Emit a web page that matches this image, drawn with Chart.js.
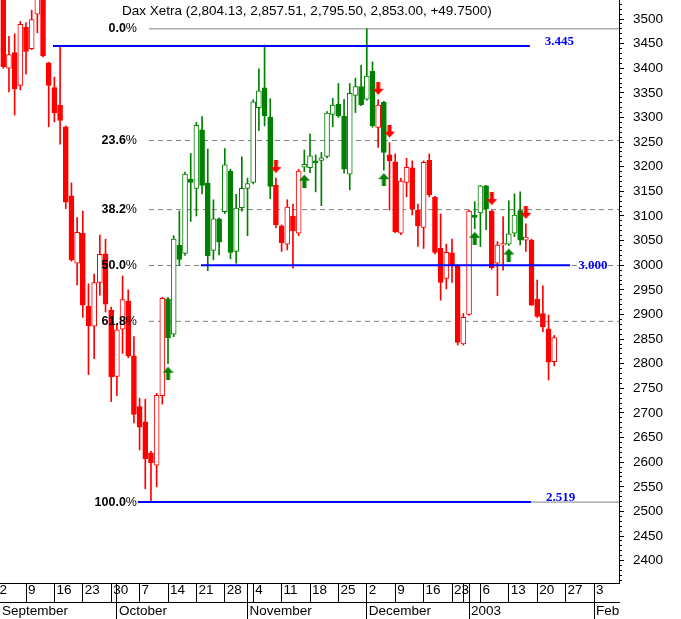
<!DOCTYPE html>
<html><head><meta charset="utf-8">
<script src="https://cdn.jsdelivr.net/npm/chart.js@4/dist/chart.umd.min.js"></script>
<style>html,body{margin:0;padding:0;background:#fff;overflow:hidden}canvas{display:block}</style>
</head><body>
<canvas id="c" width="681" height="619"></canvas>
<script>
// ---------- DATA ----------
const instrument = 'Dax Xetra';
const firstIndex = 1; // trading-day index of the first candle (Sep 3, 2002; Sep 2 = 0)
const opens  = [3560,3400,3432,3365,3483,3440,3510,3560,3411,3361,3325,3281,3141,3004,3065,2917,2876,2965,3023,2909,
                2774,2870,2927,2816,2713,2682,2619,2594,2735,2932,2860,3041,3024,3175,3156,3275,3167,3030,3094,3109,
                3191,3028,3117,3156,3168,3320,3360,3301,3163,3080,3043,3100,3065,3199,3198,3212,3213,3221,3306,3327,
                3303,3185,3345,3363,3337,3394,3280,3331,3224,3210,3065,3168,3198,3112,3077,3213,3138,3035,2973,3025,
                2999,2840,2900,3102,3106,3161,3110,3004,3041,3043,3065,3111,3051,3051,2931,2902,2871,2804.13];
const highs  = [3575,3465,3470,3495,3492,3518,3570,3575,3412,3382,3445,3283,3167,3097,3110,2962,2982,3061,3053,2915,
                2880,2978,2950,2855,2730,2728,2622,2740,2935,2935,3060,3110,3189,3227,3290,3302,3236,3133,3096,3237,
                3195,3144,3220,3177,3336,3399,3447,3338,3177,3082,3133,3124,3195,3234,3267,3224,3229,3312,3339,3369,
                3337,3369,3380,3406,3480,3413,3336,3333,3249,3226,3177,3217,3212,3124,3212,3226,3140,3104,3043,3053,
                3001,2902,3112,3129,3162,3162,3112,3048,3099,3131,3145,3149,3084,3053,2970,2958,2899,2857.51];
const lows   = [3400,3352,3305,3356,3388,3438,3472,3423,3281,3291,3246,3115,3008,2960,2894,2778,2810,2939,2905,2723,
                2735,2821,2812,2680,2625,2546,2519,2550,2718,2800,2855,3000,3020,3089,3100,3145,2989,3011,3021,3105,
                3013,3004,3110,3060,3165,3273,3283,3135,3076,3028,3031,2994,3060,3190,3188,3149,3121,3218,3281,3300,
                3187,3153,3310,3324,3335,3280,3239,3193,3112,3066,3062,3139,3102,3038,3034,3139,3023,2929,2952,2965,
                2838,2838,2898,3074,3038,3072,2992,2938,2990,3040,3058,3041,3028,2918,2894,2865,2767,2795.50];
const closes = [3403,3428,3358,3489,3434,3499,3555,3425,3365,3310,3294,3128,3011,3067,2919,2877,2965,3022,2921,2773,
                2869,2930,2816,2697,2671,2607,2599,2736,2933,2853,3053,3012,3185,3168,3284,3162,3019,3094,3047,3204,
                3026,3116,3156,3166,3332,3354,3303,3160,3082,3046,3118,3070,3191,3205,3222,3208,3218,3309,3325,3303,
                3195,3349,3363,3326,3384,3283,3325,3229,3212,3068,3171,3199,3115,3080,3209,3143,3026,2965,3026,2999,
                2843,2894,3110,3097,3161,3115,2995,3041,3044,3064,3102,3051,3057,2919,2896,2875,2803.25,2853.00];
const buySignals  = [30, 54, 68, 84, 90];
const sellSignals = [49, 67, 69, 87, 93];

const weekTickIdx    = [0,5,10,15,20,25,30,35,40,45,50,55,60,65,70,75,80,82,85,90,95,100,105];
const weekTickLabels = ['2','9','16','23','30','7','14','21','28','4','11','18','25','2','9','16','23','30','6','13','20','27','3'];
const monthTickIdx    = [21,44,65,83,105];
const monthLabels     = ['September','October','November','December','2003','Feb'];
const yTickValues = [2400,2450,2500,2550,2600,2650,2700,2750,2800,2850,2900,2950,3000,3050,3100,3150,3200,3250,3300,3350,3400,3450,3500];

const fibHigh = 3480, fibLow = 2519;
const fibPercents = [0, 23.6, 38.2, 50, 61.8, 100];
const fibStartIdx = 26.65;
const keyLevels     = [3445, 3000, 2519];
const keyLevelStart = [9.75, 35.8, 24.7];
const keyLevelEnd   = [93.7, 100.8, 93.9];

// ---------- STYLE ----------
const RED = '#ff0000', GREEN = '#008000', BLUE = '#0000ff', GRAY = '#808080';
const FONT = '"Liberation Sans", Arial, sans-serif';
const xMin = 0.4225, xMax = 0.4225 + 619 / 5.68;
const yMin = 2354.7, yMax = 3538.6;

// ---------- DERIVED ----------
const n = opens.length;
const idx = opens.map((_, k) => firstIndex + k);
const signalAt = {};
buySignals.forEach(i => signalAt[i] = 'buy');
sellSignals.forEach(i => signalAt[i] = 'sell');
let state = 'sell';
const candleColor = idx.map(i => { if (signalAt[i]) state = signalAt[i]; return state === 'buy' ? GREEN : RED; });
const filled = idx.map((_, k) => closes[k] < opens[k]);
const valAt = i => i - firstIndex;

function makeArrow(color, up) {
  const w = 11, len = 13, head = 6, gap = up ? 3 : 5;
  const h = 2 * (gap + len);
  const c = document.createElement('canvas'); c.width = w; c.height = h;
  const g = c.getContext('2d');
  g.fillStyle = color;
  if (!up) { g.translate(0, h); g.scale(1, -1); }
  const top = h / 2 + gap;
  g.beginPath();
  g.moveTo(w / 2, top);
  g.lineTo(w, top + head);
  g.lineTo(w / 2 + 2, top + head);
  g.lineTo(w / 2 + 2, top + len);
  g.lineTo(w / 2 - 2, top + len);
  g.lineTo(w / 2 - 2, top + head);
  g.lineTo(0, top + head);
  g.closePath(); g.fill();
  return c;
}
const upArrow = makeArrow(GREEN, true), downArrow = makeArrow(RED, false);

const fibValue = p => fibHigh - p / 100 * (fibHigh - fibLow);

const datasets = [];
fibPercents.forEach(p => {
  const solid = (p === 0 || p === 100);
  datasets.push({ type: 'line', data: [{x: fibStartIdx, y: fibValue(p)}, {x: xMax, y: fibValue(p)}],
    borderColor: GRAY, borderWidth: 1, borderDash: solid ? [] : [5, 4], pointRadius: 0, order: 6 });
});
datasets.push({ type: 'bar', data: idx.map((i, k) => ({x: i, y: [lows[k], highs[k]]})),
  backgroundColor: candleColor, borderWidth: 0, barThickness: 1, grouped: false, order: 5 });
datasets.push({ type: 'bar', data: idx.map((i, k) => ({x: i, y: [opens[k], closes[k]]})),
  backgroundColor: idx.map((_, k) => filled[k] ? candleColor[k] : '#ffffff'),
  borderColor: candleColor, borderWidth: 1, borderSkipped: false, barThickness: 5, grouped: false, order: 4 });
keyLevels.forEach((v, k) => {
  datasets.push({ type: 'line', data: [{x: keyLevelStart[k], y: v}, {x: keyLevelEnd[k], y: v}],
    borderColor: BLUE, borderWidth: 2, pointRadius: 0, order: 3 });
});
datasets.push({ type: 'scatter', data: buySignals.map(i => ({x: i, y: lows[valAt(i)]})),
  pointStyle: upArrow, pointRadius: 5, order: 1 });
datasets.push({ type: 'scatter', data: sellSignals.map(i => ({x: i, y: highs[valAt(i)]})),
  pointStyle: downArrow, pointRadius: 5, order: 1 });

const fmt2 = v => v.toLocaleString('en-US', {minimumFractionDigits: 2, maximumFractionDigits: 2});
const change = closes[n - 1] - closes[n - 2];
const headerText = `${instrument} (${fmt2(opens[n-1])}, ${fmt2(highs[n-1])}, ${fmt2(lows[n-1])}, ${fmt2(closes[n-1])}, ${change >= 0 ? '+' : ''}${change.toFixed(4)})`;
const keyLabel = v => (v / 1000).toFixed(3);

const resetPad = s => { s.paddingLeft = 0; s.paddingRight = 0; s.paddingTop = 0; s.paddingBottom = 0; };

const textPlugin = {
  id: 'texts',
  afterDatasetsDraw(chart) {
    const {ctx, scales: {x, y}} = chart;
    ctx.save();
    ctx.textBaseline = 'middle';
    ctx.fillStyle = '#000';
    ctx.textAlign = 'left';
    ctx.font = '13.5px ' + FONT;
    ctx.fillText(headerText, 122, 11);
    const xr = x.getPixelForValue(fibStartIdx) - 12;
    fibPercents.forEach(p => {
      const py = y.getPixelForValue(fibValue(p));
      ctx.textAlign = 'right';
      ctx.font = '12.5px ' + FONT;
      ctx.fillText('%', xr, py);
      const pw = ctx.measureText('%').width;
      ctx.font = 'bold 12.5px ' + FONT;
      ctx.fillText(p.toFixed(1), xr - pw, py);
    });
    ctx.fillStyle = BLUE;
    ctx.textAlign = 'left';
    ctx.font = 'bold 13px "Liberation Serif", "Times New Roman", serif';
    keyLevels.forEach((v, k) => {
      const px = x.getPixelForValue(keyLevelEnd[k]) + (k === 1 ? 8 : 15);
      const py = y.getPixelForValue(v) - (k === 1 ? 0 : 4);
      ctx.fillText(keyLabel(v), px, py);
    });
    ctx.restore();
  }
};

new Chart(document.getElementById('c'), {
  type: 'bar',
  data: { datasets },
  plugins: [textPlugin],
  options: {
    responsive: false, animation: false, devicePixelRatio: 1,
    layout: { padding: 0, autoPadding: false },
    plugins: { legend: { display: false }, tooltip: { enabled: false } },
    scales: {
      x: {
        type: 'linear', position: 'bottom', min: xMin, max: xMax, offset: false, weight: 0,
        afterBuildTicks: s => {
          const all = Array.from(new Set(weekTickIdx.concat(monthTickIdx))).sort((a, b) => a - b);
          s.ticks = all.map(v => ({value: v}));
        },
        afterFit: s => { s.height = 19; resetPad(s); },
        grid: { drawOnChartArea: false, drawTicks: true, tickLength: 19, color: '#000', lineWidth: 1, offset: false },
        border: { display: true, color: '#000', width: 1 },
        ticks: {
          autoSkip: false, maxRotation: 0, minRotation: 0, align: 'start', padding: -19.5, labelOffset: 2,
          color: '#000', font: { family: FONT, size: 13.5 },
          callback: v => {
            const k = weekTickIdx.indexOf(v);
            if (k < 0) return '';
            if (k > 0 && v - weekTickIdx[k - 1] < 3) return '';
            return weekTickLabels[k];
          }
        }
      },
      xm: {
        type: 'linear', position: 'bottom', min: xMin, max: xMax, offset: false, weight: 1,
        afterBuildTicks: s => { s.ticks = [xMin].concat(monthTickIdx).map(v => ({value: v})); },
        afterFit: s => { s.height = 17; resetPad(s); },
        grid: { drawOnChartArea: false, drawTicks: true, tickLength: 17, offset: false,
                tickColor: c => c.index === 0 ? 'rgba(0,0,0,0)' : '#000', color: '#000' },
        border: { display: true, color: '#000', width: 1 },
        ticks: {
          autoSkip: false, maxRotation: 0, minRotation: 0, align: 'start', padding: -15.5,
          labelOffset: 2, color: '#000', font: { family: FONT, size: 13.5 },
          callback: (v, k) => monthLabels[k]
        }
      },
      y: {
        type: 'linear', position: 'right', min: yMin, max: yMax, weight: 1,
        afterBuildTicks: s => { s.ticks = yTickValues.map(v => ({value: v})); },
        afterFit: s => { s.width = 62; resetPad(s); },
        grid: { drawOnChartArea: false, drawTicks: true, tickLength: 5, color: '#000' },
        border: { display: true, color: '#000', width: 1 },
        ticks: { padding: 9, color: '#000', font: { family: FONT, size: 13.5 }, callback: v => String(v) }
      },
      ym: {
        type: 'linear', position: 'right', min: yMin, max: yMax, weight: 0,
        afterBuildTicks: s => {
          const t = [];
          for (let v = Math.ceil(yMin / 10) * 10; v <= yMax; v += 10) t.push({value: v});
          s.ticks = t;
        },
        afterFit: s => { s.width = 0; resetPad(s); },
        grid: { drawOnChartArea: false, drawTicks: true, tickLength: 3, color: '#000' },
        border: { display: false },
        ticks: { display: false }
      }
    }
  }
});
</script>
</body></html>
